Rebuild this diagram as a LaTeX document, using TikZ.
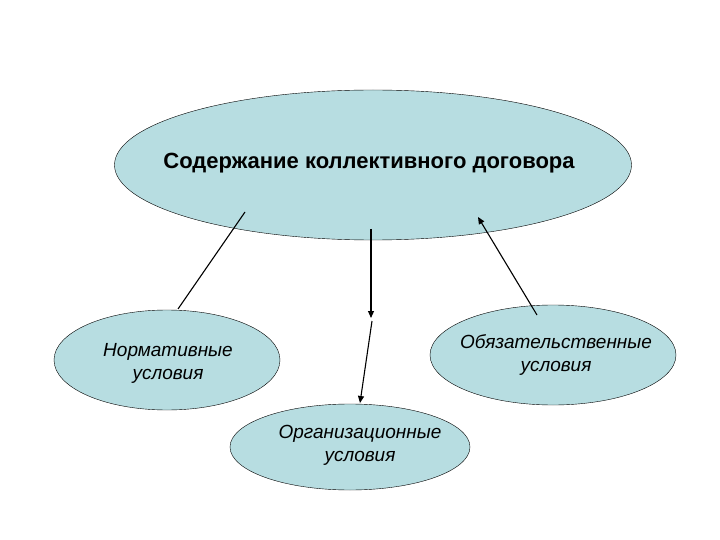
\documentclass[tikz,border=0pt]{standalone}
\usepackage{fontspec}
\setmainfont{Liberation Sans}
\usetikzlibrary{shapes.geometric,arrows.meta}
\definecolor{fillb}{HTML}{B7DDE1}
\begin{document}
\begin{tikzpicture}[x=1pt,y=-1pt,
  ell/.style={ellipse,draw,fill=fillb,inner sep=0pt},
  lab/.style={align=center,font=\itshape\fontsize{19}{23}\selectfont},
  conn/.style={line width=1.1pt},
  arr/.style={conn,-{Triangle[length=7pt,width=6pt]}}]
\useasboundingbox (0,0) rectangle (720,540);
\node[ell,minimum width=517pt,minimum height=150pt] (top) at (373,165) {};
\node[font=\bfseries\fontsize{22}{27}\selectfont] (toptext) at (369,163) {Содержание коллективного договора};
\node[ell,minimum width=226pt,minimum height=100pt] (left) at (167,360) {};
\node[lab] (lefttext) at (168,363) {Нормативные\\условия};
\node[ell,minimum width=246pt,minimum height=100pt] (right) at (553,355) {};
\node[lab] (righttext) at (556,355) {Обязательственные\\условия};
\node[ell,minimum width=240pt,minimum height=86pt] (bot) at (350,447) {};
\node[lab] (bottext) at (360,445) {Организационные\\условия};
\coordinate (a1) at (245,212); \coordinate (a2) at (178,309);
\coordinate (m1) at (371,229); \coordinate (m2) at (371,318);
\coordinate (m3) at (372,321); \coordinate (m4) at (360,403);
\coordinate (r1) at (537,315); \coordinate (r2) at (478,217);
\draw[conn] (a1) -- (a2);
\draw[arr] (m1) -- (m2);
\draw[arr] (m3) -- (m4);
\draw[arr] (r1) -- (r2);
\end{tikzpicture}
\end{document}
